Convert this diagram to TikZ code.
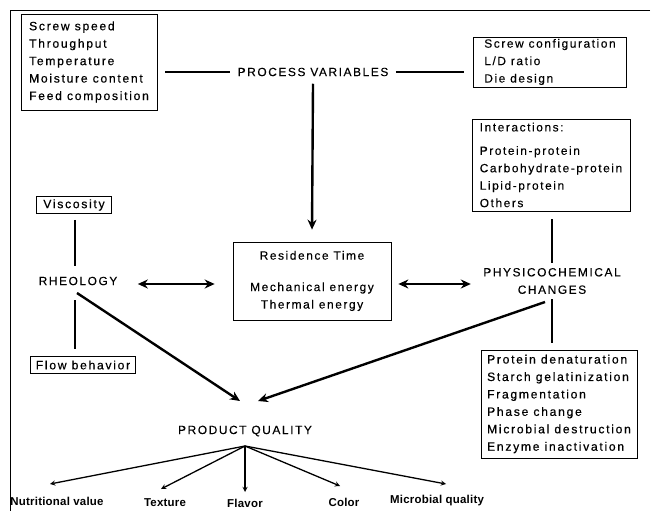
\documentclass[tikz,border=0pt]{standalone}
\usepackage{fontspec}
\setmainfont{Liberation Sans}[LetterSpace=13, FakeBold=0.15]
\newfontfamily\heavyfont{Liberation Sans}[LetterSpace=14, FakeBold=0.45]
\newfontfamily\labelfont{Liberation Sans}[LetterSpace=2]
\usetikzlibrary{arrows, arrows.meta}

\begin{document}
\begin{tikzpicture}[x=1bp, y=-1bp, >=stealth, font=\fontsize{12}{17.5}\selectfont,
    box/.style={draw, line width=0.7pt, inner sep=0pt, align=left},
    heavy/.style={font=\heavyfont\fontsize{12.2}{17.5}\selectfont},
    outlabel/.style={font=\labelfont\bfseries\fontsize{11.5}{14}\selectfont},
    link/.style={line width=1.2pt},
    fat/.style={-{Stealth[length=10bp, width=9bp]}, line width=2.4pt},
    fatboth/.style={{Stealth[length=10bp, width=9bp]}-{Stealth[length=10bp, width=9bp]}, line width=2.4pt},
    thin/.style={->, line width=1.3pt}]
    \useasboundingbox (0,0) rectangle (654,511);
    % frame
    \draw[line width=0.8pt] (650,10) -- (10,10) -- (10,511);

    \node[box, heavy, minimum width=136bp, minimum height=96bp] (feed) at (89,62)
        {Screw speed\\Throughput\\Temperature\\Moisture content\\Feed composition};
    \node (process) at (313,72) {PROCESS VARIABLES};
    \node[box, minimum width=153bp, minimum height=50bp] (design) at (550,62)
        {Screw configuration\\L/D ratio\\Die design};
    \draw[link] (feed.east |- process.west) ++(8,0) -- ([xshift=-4bp]process.west);
    \draw[link] ([xshift=4bp]process.east) -- ([xshift=-9bp]design.west |- process.east);

    \node[box, minimum width=158bp, minimum height=92bp] (interact) at (551,165)
        {Interactions:\\[6bp]Protein-protein\\Carbohydrate-protein\\Lipid-protein\\Others};

    \node[box, minimum width=158bp, minimum height=78bp, align=center] (residence) at (312,281)
        {Residence Time\\[14bp]Mechanical energy\\Thermal energy};
    \draw[fat] (process.south) ++(0,4) -- ([yshift=12bp]residence.north);

    \node[box, heavy, minimum width=75bp, minimum height=17bp, align=center] (viscosity) at (74,205) {Viscosity};
    \node (rheology) at (78,281) {RHEOLOGY};
    \node[box, heavy, minimum width=105bp, minimum height=17bp, align=center] (flow) at (83,365) {Flow behavior};
    \draw[link] ([yshift=-6bp]viscosity.south -| 75,0) -- (75,266);
    \draw[link] (75,300) -- ([yshift=7bp]flow.north -| 75,0);

    \node[align=center] (physico) at (552,281) {PHYSICOCHEMICAL\\CHANGES};
    \node[box, heavy, minimum width=156bp, minimum height=108bp] (effects) at (559,404)
        {Protein denaturation\\Starch gelatinization\\Fragmentation\\Phase change\\Microbial destruction\\Enzyme inactivation};
    \draw[link] ([yshift=-8bp]interact.south -| physico) -- ([yshift=2bp]physico.north);
    \draw[link] ([yshift=-2bp]physico.south) -- ([yshift=7bp]effects.north -| physico);

    \draw[fatboth] ([xshift=17bp]rheology.east |- 0,284) -- ([xshift=-18bp]residence.west |- 0,284);
    \draw[fatboth] ([xshift=7bp]residence.east |- 0,284) -- ([xshift=-9bp]physico.west |- 0,284);

    \node (quality) at (245,431) {PRODUCT QUALITY};
    \draw[fat] (77,293) -- (240,401);
    \draw[fat] (545,302) -- (258,401);

    \coordinate (fan) at (245,446);
    \node[outlabel] (nutrition) at (57,501) {Nutritional value};
    \node[outlabel] (texture) at (165,503) {Texture};
    \node[outlabel] (flavor) at (245,503) {Flavor};
    \node[outlabel] (color) at (344,502) {Color};
    \node[outlabel] (microbial) at (437,501) {Microbial quality};
    \draw[thin] (fan) -- (50,484);
    \draw[thin] (fan) -- (161,489);
    \draw[thin] (fan) -- (245,492);
    \draw[thin] (fan) -- (340,486);
    \draw[thin] (fan) -- (446,484);
\end{tikzpicture}
\end{document}
